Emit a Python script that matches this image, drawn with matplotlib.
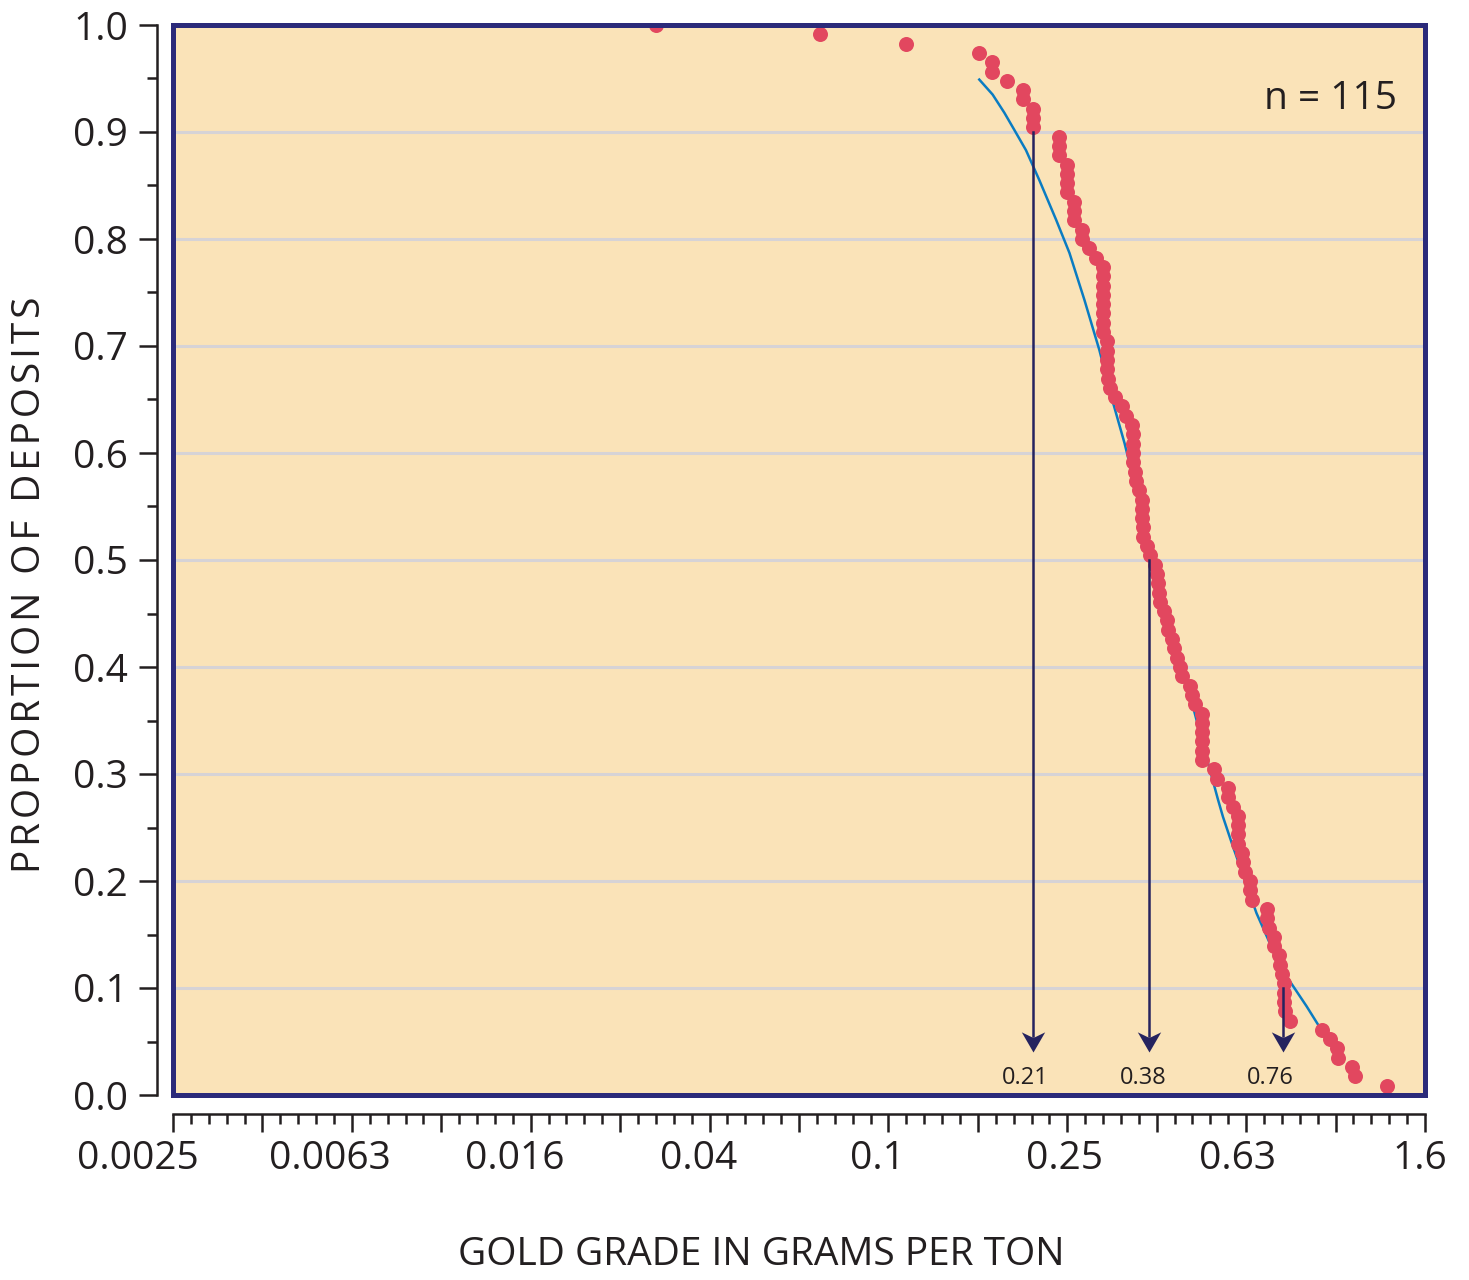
import numpy as np
import matplotlib
matplotlib.use("Agg")
import matplotlib.pyplot as plt
from matplotlib.patches import Rectangle
from matplotlib.path import Path
from matplotlib.ticker import NullFormatter
from matplotlib.transforms import ScaledTranslation

# gold grades (g/t) of the deposits, smallest to largest
grades = [
    0.030, 0.070, 0.109, 0.159, 0.170, 0.170, 0.183, 0.199, 0.199, 0.210, 0.210, 0.210,
    0.240, 0.240, 0.240, 0.250, 0.250, 0.250, 0.250, 0.259, 0.259, 0.259,
    0.270, 0.270, 0.280, 0.290,
    0.300, 0.300, 0.300, 0.300, 0.300, 0.300, 0.300, 0.300,
    0.307, 0.307, 0.307, 0.307, 0.309, 0.311, 0.319, 0.331, 0.339, 0.348,
    0.350, 0.350, 0.350, 0.350, 0.354, 0.357, 0.361, 0.368, 0.368, 0.368, 0.370, 0.370,
    0.376, 0.382, 0.392, 0.396, 0.398, 0.400, 0.402, 0.411, 0.417, 0.421,
    0.428, 0.432, 0.439, 0.446, 0.451, 0.470, 0.475, 0.482,
    0.500, 0.500, 0.500, 0.500, 0.500, 0.500,
    0.532, 0.540, 0.572, 0.572, 0.587,
    0.603, 0.603, 0.603, 0.603, 0.615, 0.618, 0.624, 0.641, 0.641, 0.647,
    0.699, 0.699, 0.707, 0.725, 0.725, 0.744, 0.748, 0.756,
    0.764, 0.764, 0.764, 0.768, 0.788,
    0.929, 0.969, 1.004, 1.009, 1.085, 1.102, 1.300,
]

# fitted grade curve
curve_grade = [0.1589, 0.1702, 0.1808, 0.1903, 0.2021, 0.2165, 0.2360, 0.2528, 0.2731,
               0.2950, 0.3135, 0.3358, 0.3595, 0.3884, 0.4162, 0.4497, 0.4775, 0.5117,
               0.5433, 0.5573, 0.5869, 0.6235, 0.6623, 0.7091, 0.7730, 0.8570, 0.9503]
curve_prop = [0.949, 0.935, 0.918, 0.902, 0.883, 0.855, 0.818, 0.787, 0.743,
              0.696, 0.653, 0.609, 0.559, 0.500, 0.453, 0.400, 0.363, 0.316,
              0.276, 0.260, 0.232, 0.201, 0.170, 0.142, 0.111, 0.083, 0.053]

# 90th, 50th and 10th percentile grades
pct_grade = [0.21, 0.38, 0.76]
pct_level = [0.9, 0.5, 0.1]
pct_labels = ["0.21", "0.38", "0.76"]

xtick_labels = ["0.0025", "0.0063", "0.016", "0.04", "0.1", "0.25", "0.63", "1.6"]
ytick_labels = ["0.0", "0.1", "0.2", "0.3", "0.4", "0.5", "0.6", "0.7", "0.8", "0.9", "1.0"]

plt.rcParams["font.family"] = ["Open Sans", "DejaVu Sans"]
txt = "#231f20"
navy = "#25235f"
DPI = 100

n = len(grades)
g = np.sort(grades)
prop = (n - np.arange(n)) / n

fig = plt.figure(figsize=(14.69, 12.8), dpi=DPI)
ax = fig.add_axes([173 / 1469, 1 - 1095 / 1280, 1252 / 1469, 1070 / 1280])
ax.set_facecolor("#fae3b8")
ax.set_xscale("log")
x0 = 0.0025
ax.set_xlim(x0, x0 * 10 ** 2.8)
ax.set_ylim(0, 1)

# horizontal grid
for yv in np.arange(1, 10) / 10:
    ax.axhline(yv, color="#d6d3d6", lw=2.2, zorder=1)

ax.plot(curve_grade, curve_prop, color="#0a7cc2", lw=1.8, zorder=3)
ax.plot(g, prop, "o", ms=10.8, color="#e2475f", mec="none", zorder=4)

# arrows down from the curve
head = Path([(0, 0), (-0.58, 1.0), (0, 0.72), (0.58, 1.0), (0, 0)],
            [Path.MOVETO, Path.LINETO, Path.LINETO, Path.LINETO, Path.CLOSEPOLY])
lab_dx = [-6, -4, -9]
for xg, lv, lab, dx in zip(pct_grade, pct_level, pct_labels, lab_dx):
    ax.plot([xg, xg], [lv, 0.055], color=navy, lw=1.8, zorder=5)
    ax.plot([xg], [0.040], marker=head, ms=29, color=navy, mec="none", zorder=5)
    ax.annotate(lab, (xg, 0.016), xytext=(dx, 0), textcoords="offset points",
                ha="center", va="center", fontsize=17, color=txt, zorder=6)

ax.text(0.978, 0.931, "n = 115", transform=ax.transAxes, ha="right", va="center",
        fontsize=28, color=txt)

# frame around the plotting area
ax.add_patch(Rectangle((0, 0), 1, 1, transform=ax.transAxes, fill=False,
                       ec="#2b2a7a", lw=3.6, clip_on=False, zorder=10))

for s in ["top", "right"]:
    ax.spines[s].set_visible(False)
ax.spines["left"].set_position(("outward", 11.5))
ax.spines["bottom"].set_position(("outward", 13.7))
for s in ["left", "bottom"]:
    ax.spines[s].set_linewidth(1.8)
    ax.spines[s].set_color(txt)

major = x0 * 10 ** (0.2 * np.arange(15))
minor = x0 * 10 ** (0.04 * np.arange(71))
ax.set_xticks(major)
ax.set_xticks(minor, minor=True)
ax.xaxis.set_minor_formatter(NullFormatter())
ax.set_xticklabels([xtick_labels[i // 2] if i % 2 == 0 else "" for i in range(15)])
ax.set_yticks(np.arange(11) / 10)
ax.set_yticks(np.arange(0.05, 1, 0.1), minor=True)
ax.yaxis.set_minor_formatter(NullFormatter())
ax.set_yticklabels(ytick_labels)

ax.tick_params(axis="both", which="major", length=13, width=1.8, color=txt,
               labelsize=28, labelcolor=txt)
ax.tick_params(axis="both", which="minor", length=7, width=1.8, color=txt)
ax.tick_params(axis="x", which="major", pad=6)
ax.tick_params(axis="y", which="major", pad=8)

# labels sit a little left of their ticks
xlab_dx = [-35, -22, -16, -11, -11, -3, -9, -5]
visible = [t for i, t in enumerate(ax.get_xticklabels()) if i % 2 == 0]
for t, dx in zip(visible, xlab_dx):
    t.set_transform(t.get_transform() + ScaledTranslation(dx / DPI, 0, fig.dpi_scale_trans))

fig.text(0.5 * (458 + 1065) / 1469, 1 - 1255 / 1280, "GOLD GRADE IN GRAMS PER TON",
         ha="center", va="center", fontsize=28, color=txt)
ylab = "\u200a".join("PROPORTION OF DEPOSITS")
fig.text(30 / 1469, 1 - 585 / 1280, ylab, rotation=90,
         ha="center", va="center", fontsize=28, color=txt)

fig.savefig("out.png", dpi=DPI)
